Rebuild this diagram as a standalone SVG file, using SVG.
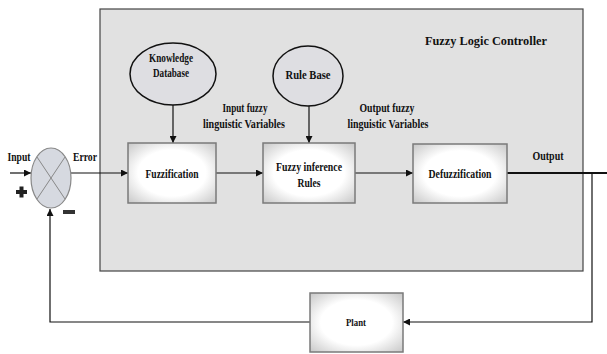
<svg xmlns="http://www.w3.org/2000/svg" width="607" height="354" viewBox="0 0 607 354">
<style>
text{font-family:"Liberation Serif","Times New Roman",serif;font-weight:bold;fill:#111;text-anchor:middle}
.t{font-size:12.5px}
.box{fill:url(#glow);stroke:#7a7a7a;stroke-width:1.5}
.ell{fill:#dedee2;stroke:#111;stroke-width:1.5}
.ln{fill:none;stroke:#111;stroke-width:1.2}
</style>
<defs>
<radialGradient id="glow" cx="0.5" cy="0.5" r="0.7">
<stop offset="0.55" stop-color="#ffffff"/>
<stop offset="1" stop-color="#c8c8c8"/>
</radialGradient>
<marker id="ar" viewBox="0 0 10 10" refX="10" refY="5" markerWidth="7" markerHeight="7" orient="auto" markerUnits="userSpaceOnUse">
<path d="M0,0 L10,5 L0,10 z" fill="#111"/>
</marker>
</defs>
<g id="controller">
<rect x="100" y="9" width="483" height="262" fill="#e1e1e1" stroke="#444" stroke-width="1.2"/>
<text x="486" y="45" font-size="13.5" textLength="122" lengthAdjust="spacingAndGlyphs">Fuzzy Logic Controller</text>
</g>
<g id="connectors">
<line class="ln" x1="10" y1="173" x2="31" y2="173" marker-end="url(#ar)"/>
<line class="ln" x1="71" y1="173" x2="128" y2="173" marker-end="url(#ar)"/>
<line class="ln" x1="173" y1="105" x2="173" y2="143" marker-end="url(#ar)"/>
<line class="ln" x1="309" y1="106" x2="309" y2="143" marker-end="url(#ar)"/>
<line class="ln" x1="216" y1="173" x2="263" y2="173" marker-end="url(#ar)"/>
<line class="ln" x1="355" y1="173" x2="413" y2="173" marker-end="url(#ar)"/>
<line x1="507" y1="173" x2="607" y2="173" stroke="#111" stroke-width="1.8"/>
<polyline class="ln" points="592,173 592,322 403,322" marker-end="url(#ar)"/>
<polyline class="ln" points="310,322 50,322 50,209" marker-end="url(#ar)"/>
</g>
<g id="sum">
<ellipse cx="51" cy="178" rx="20" ry="30" fill="#d6d9e0" stroke="#888" stroke-width="1.2"/>
<line x1="37" y1="157" x2="65" y2="199" stroke="#888" stroke-width="1"/>
<line x1="65" y1="157" x2="37" y2="199" stroke="#888" stroke-width="1"/>
</g>
<g id="labels">
<text class="t" x="19" y="161" textLength="23" lengthAdjust="spacingAndGlyphs">Input</text>
<text class="t" x="85" y="161" textLength="24" lengthAdjust="spacingAndGlyphs">Error</text>
<rect x="16" y="190" width="11" height="4" fill="#222"/>
<rect x="19.5" y="186.5" width="4" height="11" fill="#222"/>
<rect x="63" y="210" width="12" height="4" fill="#333"/>
<text class="t" x="245" y="112" textLength="45" lengthAdjust="spacingAndGlyphs">Input fuzzy</text>
<text class="t" x="244" y="128" textLength="82" lengthAdjust="spacingAndGlyphs">linguistic Variables</text>
<text class="t" x="387" y="112" textLength="55" lengthAdjust="spacingAndGlyphs">Output fuzzy</text>
<text class="t" x="388" y="128" textLength="81" lengthAdjust="spacingAndGlyphs">linguistic Variables</text>
<text class="t" x="548" y="160" textLength="31" lengthAdjust="spacingAndGlyphs">Output</text>
</g>
<g id="knowledge">
<ellipse class="ell" cx="173" cy="74" rx="43" ry="31"/>
<text class="t" x="171" y="62" textLength="44" lengthAdjust="spacingAndGlyphs">Knowledge</text>
<text class="t" x="171" y="77" textLength="36" lengthAdjust="spacingAndGlyphs">Database</text>
</g>
<g id="rulebase">
<ellipse class="ell" cx="308" cy="76" rx="35" ry="30"/>
<text class="t" x="308" y="79" textLength="45" lengthAdjust="spacingAndGlyphs">Rule Base</text>
</g>
<g id="fuzzification">
<rect class="box" x="128" y="143" width="88" height="60"/>
<text class="t" x="172" y="178" textLength="53" lengthAdjust="spacingAndGlyphs">Fuzzification</text>
</g>
<g id="inference">
<rect class="box" x="263" y="143" width="92" height="60"/>
<text class="t" x="309" y="171" textLength="66" lengthAdjust="spacingAndGlyphs">Fuzzy inference</text>
<text class="t" x="309" y="187" textLength="23" lengthAdjust="spacingAndGlyphs">Rules</text>
</g>
<g id="defuzzification">
<rect class="box" x="413" y="144" width="94" height="59"/>
<text class="t" x="460" y="178" textLength="63" lengthAdjust="spacingAndGlyphs">Defuzzification</text>
</g>
<g id="plant">
<rect class="box" x="310" y="293" width="93" height="59"/>
<text x="356" y="326" font-size="9.5" textLength="20" lengthAdjust="spacingAndGlyphs">Plant</text>
</g>
</svg>
